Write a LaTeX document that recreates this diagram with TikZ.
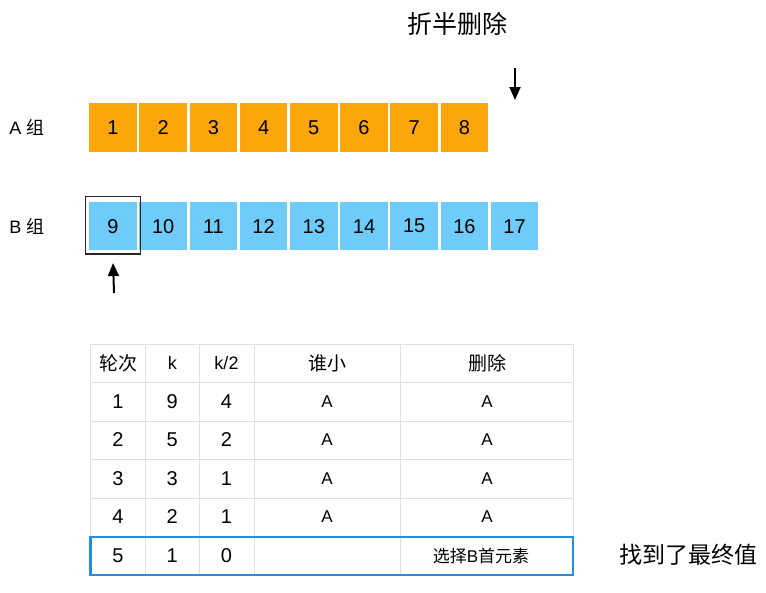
\documentclass[tikz,border=0pt]{standalone}
\usepackage{fontspec}
\setmainfont{Liberation Sans}
\newfontfamily\cjk{Noto Sans CJK SC}
\usetikzlibrary{arrows.meta}
\definecolor{cellorange}{RGB}{252,166,10}
\definecolor{cellblue}{RGB}{110,203,250}
\definecolor{gridgray}{RGB}{224,224,224}
\definecolor{markblue}{RGB}{34,142,228}
\tikzset{
  cellA/.style={fill=cellorange, minimum width=47.5pt, minimum height=48.5pt, inner sep=0pt, font=\fontsize{20}{22}\selectfont},
  cellB/.style={cellA, fill=cellblue},
  pointer/.style={-{Triangle[length=13pt,width=11pt]}, line width=2pt},
  headcjk/.style={font=\cjk\fontsize{19}{22}\selectfont},
  headlat/.style={font=\fontsize{18}{20}\selectfont},
  digit/.style={font=\fontsize{20}{22}\selectfont},
  letter/.style={font=\fontsize{17}{19}\selectfont}
}
\begin{document}
\begin{tikzpicture}[x=1pt,y=-1pt]
  \useasboundingbox (0,0) rectangle (766,592);

  \node[font=\cjk\fontsize{25}{28}\selectfont] (title) at (457,24) {折半删除};

  \node[font=\fontsize{18}{20}\selectfont] (labelA) at (27,127) {A {\cjk 组}};
  \node[font=\fontsize{18}{20}\selectfont] (labelB) at (27,226) {B {\cjk 组}};

  \foreach \i in {1,...,8}
    \node[cellA] (a\i) at ({113+50.2*(\i-1)},127.5) {\i};
  \foreach \v [count=\i] in {9,...,17}
    \node[cellB] (b\i) at ({113+50.2*(\i-1)},226.2) {\v};

  \node[draw=black!85, line width=1.3pt, minimum width=55pt, minimum height=57.5pt, inner sep=0pt] (pick) at (112.8,225.2) {};

  \coordinate (downtail) at (515,68);
  \coordinate (downtip) at (515,100);
  \draw[pointer] (downtail) -- (downtip);
  \coordinate (uptail) at (114,293);
  \draw[pointer, shorten >=8.5pt] (uptail) -- (pick.south);

  % table grid
  \draw[gridgray, line width=1pt] (90.5,344) rectangle (573,575);
  \foreach \x in {145.5,199,254,400.5}
    \draw[gridgray, line width=1pt] (\x,344) -- (\x,575);
  \foreach \y in {382.5,421,459.5,498,536.5}
    \draw[gridgray, line width=1pt] (90.5,\y) -- (573,\y);

  \node[headcjk] (h1) at (118,363) {轮次};
  \node[headlat] (h2) at (172.3,363) {k};
  \node[headlat] (h3) at (226.5,363) {k/2};
  \node[headcjk] (h4) at (327,363) {谁小};
  \node[headcjk] (h5) at (487,363) {删除};

  \foreach \r/\k/\h/\who/\del [count=\n] in {1/9/4/A/A, 2/5/2/A/A, 3/3/1/A/A, 4/2/1/A/A}
  {
    \node[digit] (r\n c1) at (118,{363+38.5*\n}) {\r};
    \node[digit] (r\n c2) at (172.3,{363+38.5*\n}) {\k};
    \node[digit] (r\n c3) at (226.5,{363+38.5*\n}) {\h};
    \node[letter] (r\n c4) at (327,{363+38.5*\n}) {\who};
    \node[letter] (r\n c5) at (487,{363+38.5*\n}) {\del};
  }

  \node[draw=markblue, line width=2.5pt, minimum width=482.5pt, minimum height=38pt, inner sep=0pt] (lastrow) at (331.75,556) {};
  \node[digit] (r5 c1) at (118,556) {5};
  \node[digit] (r5 c2) at (172.3,556) {1};
  \node[digit] (r5 c3) at (226.5,556) {0};
  \node[font=\fontsize{17}{20}\selectfont] (r5 c5) at (481,556) {{\cjk 选择}B{\cjk 首元素}};

  \node[font=\cjk\fontsize{23}{26}\selectfont] (found) at (688,555) {找到了最终值};
\end{tikzpicture}
\end{document}
